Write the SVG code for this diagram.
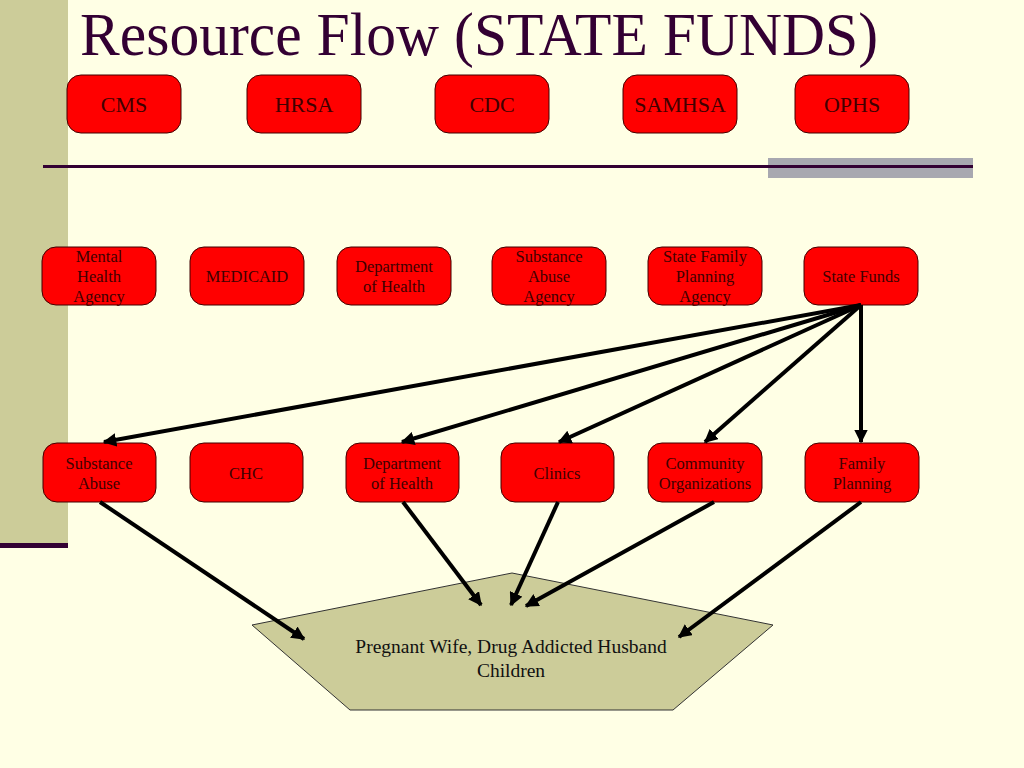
<svg xmlns="http://www.w3.org/2000/svg" width="1024" height="768" viewBox="0 0 1024 768">
<defs>
<marker id="ah" viewBox="0 0 10 10" refX="9" refY="5" markerWidth="3.4" markerHeight="3.4" markerUnits="strokeWidth" orient="auto">
<path d="M0,0 L10,5 L0,10 z" fill="#000"/>
</marker>
<style>
.box{fill:#FF0000;stroke:#400000;stroke-width:1}
.t{font-family:"Liberation Serif","Times New Roman",serif;fill:#400000;text-anchor:middle}
.t1{font-size:22px}
.t2{font-size:16.5px}
.c{stroke:#000;stroke-width:4;fill:none;marker-end:url(#ah)}
</style>
</defs>
<rect width="1024" height="768" fill="#FFFFE5"/>
<rect x="0" y="0" width="68" height="543" fill="#CCCC99"/>
<rect x="0" y="543" width="68" height="5" fill="#330033"/>
<text x="80" y="55" font-family="'Liberation Serif','Times New Roman',serif" font-size="62" fill="#330033" textLength="798" lengthAdjust="spacingAndGlyphs">Resource Flow (STATE FUNDS)</text>
<rect x="768" y="158" width="205" height="20" fill="#A8A8B0"/>
<line x1="43" y1="166.5" x2="973" y2="166.5" stroke="#330033" stroke-width="3"/>

<g id="n-cms"><rect class="box" x="67" y="75" width="114" height="58" rx="14"/><text class="t t1" x="124" y="112">CMS</text></g>
<g id="n-hrsa"><rect class="box" x="247" y="75" width="114" height="58" rx="14"/><text class="t t1" x="304" y="112">HRSA</text></g>
<g id="n-cdc"><rect class="box" x="435" y="75" width="114" height="58" rx="14"/><text class="t t1" x="492" y="112">CDC</text></g>
<g id="n-samhsa"><rect class="box" x="623" y="75" width="114" height="58" rx="14"/><text class="t t1" x="680" y="112">SAMHSA</text></g>
<g id="n-ophs"><rect class="box" x="795" y="75" width="114" height="58" rx="14"/><text class="t t1" x="852" y="112">OPHS</text></g>

<g id="n-mental"><rect class="box" x="42" y="247" width="114" height="58" rx="14"/><text class="t t2" x="99" y="262">Mental</text><text class="t t2" x="99" y="282">Health</text><text class="t t2" x="99" y="302">Agency</text></g>
<g id="n-medicaid"><rect class="box" x="190" y="247" width="114" height="58" rx="14"/><text class="t t2" x="247" y="282">MEDICAID</text></g>
<g id="n-doh1"><rect class="box" x="337" y="247" width="114" height="58" rx="14"/><text class="t t2" x="394" y="272">Department</text><text class="t t2" x="394" y="292">of Health</text></g>
<g id="n-saa"><rect class="box" x="492" y="247" width="114" height="58" rx="14"/><text class="t t2" x="549" y="262">Substance</text><text class="t t2" x="549" y="282">Abuse</text><text class="t t2" x="549" y="302">Agency</text></g>
<g id="n-sfpa"><rect class="box" x="648" y="247" width="114" height="58" rx="14"/><text class="t t2" x="705" y="262">State Family</text><text class="t t2" x="705" y="282">Planning</text><text class="t t2" x="705" y="302">Agency</text></g>
<g id="n-sf"><rect class="box" x="804" y="247" width="114" height="58" rx="14"/><text class="t t2" x="861" y="282">State Funds</text></g>

<g id="n-sa"><rect class="box" x="43" y="443" width="113" height="59" rx="14"/><text class="t t2" x="99" y="469">Substance</text><text class="t t2" x="99" y="489">Abuse</text></g>
<g id="n-chc"><rect class="box" x="190" y="443" width="113" height="59" rx="14"/><text class="t t2" x="246" y="479">CHC</text></g>
<g id="n-doh2"><rect class="box" x="346" y="443" width="113" height="59" rx="14"/><text class="t t2" x="402" y="469">Department</text><text class="t t2" x="402" y="489">of Health</text></g>
<g id="n-clinics"><rect class="box" x="501" y="443" width="113" height="59" rx="14"/><text class="t t2" x="557" y="479">Clinics</text></g>
<g id="n-co"><rect class="box" x="648" y="443" width="114" height="59" rx="14"/><text class="t t2" x="705" y="469">Community</text><text class="t t2" x="705" y="489">Organizations</text></g>
<g id="n-fp"><rect class="box" x="805" y="443" width="114" height="59" rx="14"/><text class="t t2" x="862" y="469">Family</text><text class="t t2" x="862" y="489">Planning</text></g>

<g id="n-family"><polygon points="512,573 773,625 673,710 350,710 252,625" fill="#CCCC99" stroke="#333" stroke-width="1"/><text class="t" x="511" y="653" font-size="19.5" fill="#111" style="fill:#111">Pregnant Wife, Drug Addicted Husband</text><text class="t" x="511" y="677" font-size="19.5" style="fill:#111">Children</text></g>

<g id="connectors">
<line class="c" x1="861" y1="305" x2="104" y2="442"/>
<line class="c" x1="861" y1="305" x2="402" y2="442"/>
<line class="c" x1="861" y1="305" x2="559" y2="442"/>
<line class="c" x1="861" y1="305" x2="705" y2="442"/>
<line class="c" x1="861" y1="305" x2="861" y2="442"/>
<line class="c" x1="100" y1="502" x2="304" y2="639"/>
<line class="c" x1="403" y1="502" x2="481" y2="605"/>
<line class="c" x1="558" y1="502" x2="511" y2="605"/>
<line class="c" x1="714" y1="502" x2="526" y2="606"/>
<line class="c" x1="861" y1="502" x2="679" y2="637"/>
</g>
</svg>
